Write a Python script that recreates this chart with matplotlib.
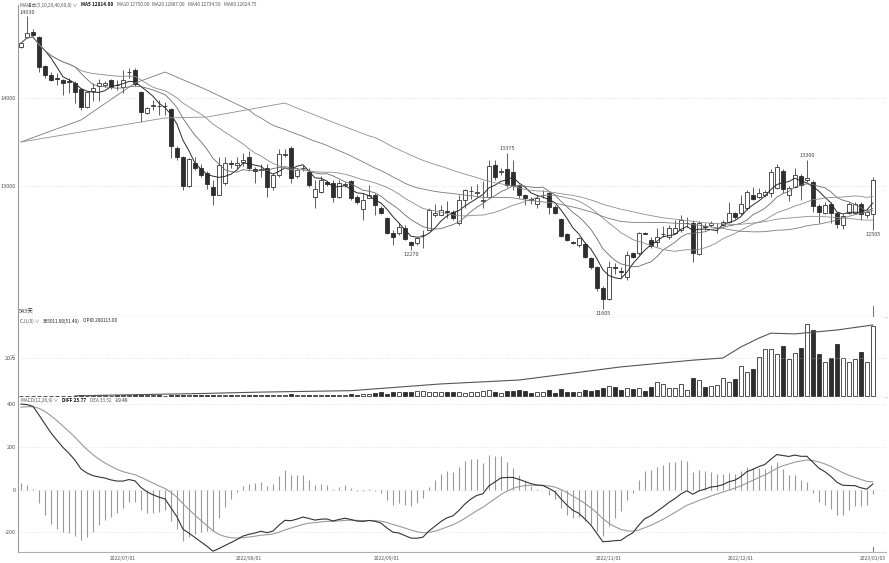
import numpy as np
import pandas as pd
import matplotlib
matplotlib.use("Agg")
import matplotlib.pyplot as plt

plt.rcParams['font.family'] = ['Noto Sans CJK SC', 'DejaVu Sans']

# ---------------- data ----------------
opens = [14580, 14693, 14750, 14693, 14364, 14261, 14220, 14205, 14190, 14170,
         14102, 13898, 14080, 14136, 14148, 14205, 14150, 14125, 14290, 14318,
         14068, 13830, 13905, 13912, 13905, 13875, 13432, 13330, 13000, 13261,
         13205, 13148, 12989, 12898, 13034, 13260, 13240, 13270, 13330, 13195,
         13182, 13205, 12989, 13125, 13350, 13432, 13114, 13200, 13159, 12875,
         12932, 13045, 13034, 12875, 13015, 13057, 12875, 12739, 12864, 12898,
         12750, 12636, 12466, 12466, 12523, 12364, 12352, 12440, 12500, 12670,
         12670, 12710, 12705, 12580, 12841, 12940, 12920, 12830, 12875, 13239,
         13159, 13193, 13159, 13000, 12898, 12845, 12795, 12895, 12920, 12761,
         12625, 12455, 12364, 12330, 12341, 12182, 12080, 11841, 11716, 12075,
         12030, 11966, 12239, 12239, 12470, 12386, 12364, 12450, 12420, 12466,
         12500, 12575, 12580, 12227, 12540, 12557, 12520, 12557, 12591, 12693,
         12693, 12750, 12898, 12875, 12898, 12920, 12977, 13170, 12898, 12989,
         13114, 13068, 13045, 12773, 12693, 12795, 12693, 12557, 12693, 12693,
         12795, 12670, 12682]
highs = [14640, 14930, 14780, 14710, 14380, 14290, 14284, 14215, 14230, 14190,
         14110, 14080, 14170, 14220, 14195, 14215, 14205, 14318, 14340, 14340,
         14080, 13900, 13977, 13977, 13955, 13886, 13450, 13340, 13320, 13330,
         13250, 13170, 13068, 13330, 13330, 13300, 13330, 13370, 13400, 13216,
         13250, 13250, 13150, 13420, 13420, 13455, 13210, 13240, 13200, 13068,
         13114, 13060, 13068, 13068, 13045, 13070, 12900, 12920, 13011, 12920,
         12770, 12650, 12500, 12580, 12557, 12370, 12420, 12500, 12750, 12800,
         12784, 12830, 12727, 12900, 12966, 13000, 13023, 13057, 13295, 13295,
         13200, 13375, 13295, 13020, 12910, 12880, 12900, 12950, 12940, 12780,
         12640, 12470, 12380, 12420, 12360, 12190, 12090, 11860, 12150, 12120,
         12080, 12260, 12250, 12480, 12480, 12420, 12523, 12550, 12557, 12614,
         12670, 12650, 12614, 12600, 12580, 12600, 12580, 12610, 12818, 12710,
         12900, 12950, 12990, 12980, 12950, 13190, 13250, 13190, 13000, 13200,
         13140, 13300, 13070, 12800, 12818, 12818, 12710, 12680, 12818, 12818,
         12818, 12720, 13100]
lows = [14570, 14680, 14700, 14295, 14230, 14190, 14148, 14034, 14057, 13943,
        13864, 13890, 13966, 13966, 14130, 14100, 14091, 14057, 14230, 14140,
        13727, 13820, 13864, 13807, 13807, 13318, 13295, 12955, 12990, 13182,
        13100, 12966, 12784, 12898, 13010, 13210, 13190, 13230, 13182, 13034,
        13100, 12875, 12955, 13100, 13330, 13034, 13090, 13170, 12990, 12750,
        12920, 13000, 12818, 12864, 12989, 12841, 12800, 12614, 12864, 12670,
        12680, 12450, 12330, 12443, 12386, 12270, 12330, 12300, 12500, 12650,
        12670, 12640, 12614, 12560, 12750, 12850, 12880, 12750, 12864, 13068,
        13125, 12990, 12960, 12864, 12784, 12800, 12750, 12864, 12680, 12680,
        12420, 12370, 12340, 12310, 12180, 12060, 11810, 11605, 11700, 12000,
        11950, 11930, 12180, 12220, 12450, 12300, 12307, 12420, 12400, 12450,
        12477, 12530, 12136, 12210, 12500, 12530, 12466, 12540, 12580, 12630,
        12670, 12730, 12840, 12864, 12880, 12875, 12966, 12920, 12830, 12977,
        12841, 13040, 12700, 12580, 12680, 12580, 12523, 12512, 12680, 12680,
        12614, 12640, 12505]
closes = [14625, 14739, 14716, 14352, 14261, 14205, 14214, 14170, 14185, 14068,
          13898, 14068, 14114, 14170, 14170, 14125, 14145, 14205, 14300, 14159,
          13841, 13886, 13915, 13905, 13909, 13455, 13330, 13000, 13307, 13205,
          13125, 13023, 12898, 13239, 13261, 13250, 13265, 13290, 13205, 13170,
          13185, 12989, 13125, 13364, 13360, 13091, 13182, 13210, 13011, 12966,
          13068, 13023, 12875, 13034, 13020, 12864, 12818, 12841, 12898, 12784,
          12693, 12466, 12420, 12534, 12398, 12330, 12409, 12445, 12727, 12693,
          12727, 12705, 12636, 12841, 12955, 12945, 12925, 12845, 13227, 13102,
          13165, 13011, 13000, 12898, 12864, 12841, 12864, 12900, 12761, 12693,
          12432, 12386, 12352, 12409, 12193, 12080, 11841, 11716, 12080, 12068,
          12023, 12216, 12193, 12466, 12460, 12318, 12420, 12455, 12523, 12523,
          12614, 12585, 12239, 12580, 12535, 12580, 12525, 12591, 12693, 12648,
          12795, 12932, 12852, 12920, 12932, 13159, 13216, 12966, 12977, 13125,
          13011, 13091, 12773, 12705, 12784, 12693, 12568, 12659, 12795, 12795,
          12682, 12700, 13068]
volumes = [0, 0, 0, 0, 0, 0, 0, 0, 0,
           2000, 3000, 2000, 3000, 4000, 3000, 2000, 3000, 4000, 3000, 5000, 4000,
           3000, 4000, 3000, 2000, 6000, 5000, 7000, 5000, 4000, 3000, 4000, 5000,
           6000, 4000, 3000, 3000, 4000, 5000, 4000, 3000,
           6000, 5000, 7000, 4000, 8000, 5000, 4000, 6000, 7000, 5000, 4000, 6000,
           5000, 7000, 8000, 6000,
           12000, 12000, 16000, 19000, 12000, 23000, 19000, 19000, 23000, 26000,
           26000, 23000, 23000,
           23000, 23000, 23000, 23000, 17500, 23000, 23000, 26000, 30000, 19000,
           14000, 26000, 26000, 30000, 26000, 16000, 23000, 23000, 30000, 16000,
           37000, 19000, 19000, 23000, 30000, 26000, 30000, 40000, 53000, 47000,
           32000, 40000, 37000, 40000, 26000, 47000, 72000, 61000, 40000, 40000,
           61000, 32000, 93000, 82000, 47000, 51000, 58000, 93000, 75000, 88000,
           154000, 125000, 142000, 202000, 242000, 246000, 219000, 260000, 193000, 223000,
           251000, 374000, 344000, 219000, 177000, 198000, 272000, 195000, 175000, 193000,
           228000, 177000, 365011]
# open interest (OPID), read at these bars
oi_bars = [9, 20, 30, 40, 55, 70, 83, 100, 112, 117, 120, 123, 125, 129, 136, 142]
oi_values = [500, 4000, 7000, 11000, 15000, 34000, 45000, 82000, 101000, 107000,
             138000, 163000, 177000, 175000, 186000, 200113]

# moving-average values before each window is full
ma40_head_bars = [0, 10, 19, 24, 31, 38]
ma40_head = [13500, 13750, 14170, 14295, 14091, 13864]
ma60_head_bars = [0, 24, 31, 44, 46, 52, 58]
ma60_head = [13500, 13773, 13784, 13943, 13886, 13725, 13570]

# MACD state on the first bar
ema12_start = 14400
ema26_start = 14000
dea_start = 385

date_tick_bars = [17, 38, 61, 98, 120, 142]
date_labels = ["2022/07/01", "2022/08/01", "2022/09/01", "2022/11/01", "2022/12/01", "2023/01/03"]

# ---------------- derived ----------------
o = np.array(opens, float); h = np.array(highs, float)
l = np.array(lows, float); c = np.array(closes, float)
v = np.array(volumes, float)
n = len(c)
x = np.arange(n)
up = c >= o

cs = pd.Series(c)
ma5 = cs.rolling(5, min_periods=1).mean().values
ma10 = cs.rolling(10, min_periods=1).mean().values
ma20 = cs.rolling(20, min_periods=1).mean().values
ma40_full = cs.rolling(40).mean().values
ma60_full = cs.rolling(60).mean().values
ma40_x = list(ma40_head_bars) + list(range(39, n))
ma40_y = list(ma40_head) + list(ma40_full[39:])
ma60_x = list(ma60_head_bars) + list(range(59, n))
ma60_y = list(ma60_head) + list(ma60_full[59:])

e12 = np.empty(n); e26 = np.empty(n); dea = np.empty(n)
e12[0] = ema12_start; e26[0] = ema26_start; dea[0] = dea_start
for i in range(1, n):
    e12[i] = e12[i-1] + 2/13 * (c[i] - e12[i-1])
    e26[i] = e26[i-1] + 2/27 * (c[i] - e26[i-1])
diff = e12 - e26
for i in range(1, n):
    dea[i] = dea[i-1] + 0.2 * (diff[i] - dea[i-1])
hist = 2 * (diff - dea)

# ---------------- figure ----------------
W, H = 889, 563
fig = plt.figure(figsize=(W/100, H/100), dpi=100)
fig.patch.set_facecolor('white')

def rect(x0, y0, x1, y1):
    return [x0/W, 1 - y1/H, (x1-x0)/W, (y1-y0)/H]

def ptxt(xp, yp, s, **kw):
    return fig.text(xp/W, 1 - yp/H, s, **kw)

ax1 = fig.add_axes(rect(18, 5, 886, 317))
ax2 = fig.add_axes(rect(18, 317, 886, 397), sharex=ax1)
ax3 = fig.add_axes(rect(18, 397, 886, 552), sharex=ax1)

axcol = '#9a9a9a'
for ax in (ax1, ax2, ax3):
    for s in ('top', 'right'):
        ax.spines[s].set_visible(False)
    ax.spines['left'].set_color(axcol)
    ax.spines['bottom'].set_color('#b0b0b0')
    ax.spines['left'].set_linewidth(0.8)
    ax.spines['bottom'].set_linewidth(0.8)
    ax.tick_params(axis='both', length=0, labelsize=4, colors='#555555', pad=1.5)
    ax.set_facecolor('white')

ax1.set_xlim(-0.5, 144.2)

# price panel
dark = '#2e2e2e'
ax1.vlines(x, l, h, color='#444444', lw=0.6, zorder=2)
body_lo = np.minimum(o, c)
body_h = np.maximum(np.abs(c - o), 8)
ax1.bar(x[up], body_h[up], bottom=body_lo[up], width=0.66, color='white',
        edgecolor='#333333', linewidth=0.6, zorder=3)
ax1.bar(x[~up], body_h[~up], bottom=body_lo[~up], width=0.66, color=dark,
        edgecolor=dark, linewidth=0.6, zorder=3)
ax1.plot(x, ma5, color='#2a2a2a', lw=0.7, zorder=4)
ax1.plot(x, ma10, color='#6a6a6a', lw=0.6, zorder=4)
ax1.plot(x, ma20, color='#8a8a8a', lw=0.6, zorder=4)
ax1.plot(ma40_x, ma40_y, color='#7a7a7a', lw=0.6, zorder=4)
ax1.plot(ma60_x, ma60_y, color='#8f8f8f', lw=0.6, zorder=4)
ax1.set_ylim(11511, 15057)
ax1.set_yticks([13000, 14000])
ax1.set_yticklabels(['13000', '14000'])
ax1.grid(axis='y', color='#cfcfcf', lw=0.5, ls=(0, (1, 2)))
ax1.tick_params(axis='x', labelbottom=False)

for i in (int(np.argmax(h[:10])), 81, 131):
    ax1.annotate(f"{int(h[i])}", (x[i], h[i]), xytext=(0, 1.2), textcoords='offset points',
                 ha='center', va='bottom', fontsize=4, color='#444444')
for i in (65, 97, 142):
    ax1.annotate(f"{int(l[i])}", (x[i], l[i]), xytext=(0, -1.5), textcoords='offset points',
                 ha='center', va='top', fontsize=4, color='#444444')

# volume panel
ax2.bar(x[up], v[up], width=0.66, color='white', edgecolor='#333333', linewidth=0.6)
ax2.bar(x[~up], v[~up], width=0.66, color=dark, edgecolor=dark, linewidth=0.6)
ax2.set_ylim(-5263, 410500)
ax2.set_yticks([200000])
ax2.set_yticklabels(['20万'])
ax2.grid(axis='y', color='#cfcfcf', lw=0.5, ls=(0, (1, 2)))
ax2.tick_params(axis='x', labelbottom=False)
ax2b = ax2.twinx()
ax2b.plot(oi_bars, oi_values, color='#555555', lw=0.8)
ax2b.set_ylim(-2818, 222600)
ax2b.axis('off')

# MACD panel
ax3.vlines(x, 0, hist, color='#9a9a9a', lw=0.8)
ax3.plot(x, dea, color='#9a9a9a', lw=0.8)
ax3.plot(x, diff, color='#333333', lw=0.8)
ax3.set_ylim(-292, 433)
ax3.set_yticks([-200, 0, 200, 400])
ax3.set_yticklabels(['-200', '0', '200', '400'])
ax3.grid(axis='y', color='#d5d5d5', lw=0.5, ls=(0, (1, 2)))
ax3.set_xticks(date_tick_bars)
ax3.set_xticklabels(date_labels)
ax3.tick_params(axis='x', labelsize=3.6, pad=3)

# cursor marks on the last bar
ax1.plot([n-1, n-1], [11511, 11640], color='#555555', lw=0.6)
ax3.plot([n-1, n-1], [-292, -270], color='#555555', lw=0.6)

# headers, laid out one after another so they never overlap
renderer = fig.canvas.get_renderer()

def header_row(x0, yp, parts, gap=3.5):
    xp = x0
    for s, col, bold in parts:
        t = ptxt(xp, yp, s, fontsize=3.4, color=col, va='center',
                 fontweight='bold' if bold else 'normal')
        bb = t.get_window_extent(renderer)
        xp = bb.x1 + gap

hc = '#555555'
header_row(20, 5, [("MA组合(5,10,20,40,60,0) ∨", hc, False),
                   ("MA5 12814.00", '#111111', True),
                   ("MA10 12750.00", hc, False),
                   ("MA20 12887.00", hc, False),
                   ("MA40 12734.50", hc, False),
                   ("MA60 12624.75", hc, False)])
header_row(20, 321, [("CJL(0) ∨", hc, False),
                     ("365011.00(51.49)", '#222222', False),
                     ("OPID 200113.00", '#222222', False)])
header_row(21, 400, [("MACD(12,26,9) ∨", hc, False),
                     ("DIFF 23.77", '#111111', True),
                     ("DEA 33.52", hc, False),
                     ("-19.49", '#222222', False)])
ptxt(19, 312, "543天", fontsize=4, color='#333333', va='center')

fig.savefig("out.png", dpi=100)
